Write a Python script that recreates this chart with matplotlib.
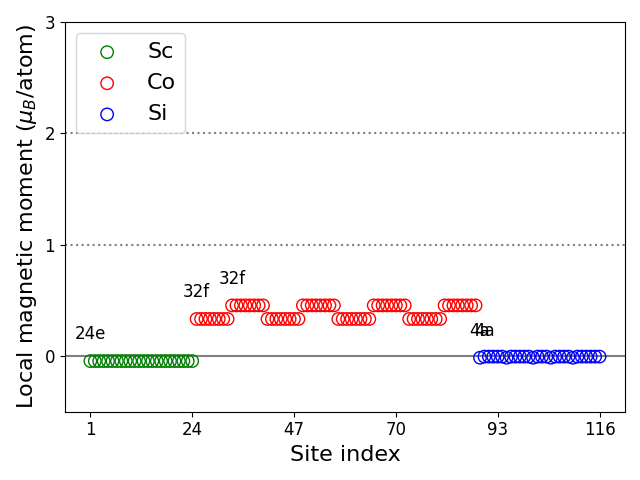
import numpy as np
import matplotlib
matplotlib.use("Agg")
import matplotlib.pyplot as plt

# Site indices and local moments (mu_B/atom)
sc_sites = np.arange(1, 25)
sc_moments = [-0.045] * 24

co_sites = np.arange(25, 89)
co_low = 0.333
co_high = 0.455
co_moments = ([co_low] * 8 + [co_high] * 8) * 4

si_sites = np.arange(89, 117)
si_moments = [-0.015, -0.005, -0.005, -0.005, -0.005, -0.005, -0.015, -0.005,
              -0.005, -0.005, -0.005, -0.005, -0.015, -0.005, -0.005, -0.005,
              -0.015, -0.005, -0.005, -0.005, -0.005, -0.015, -0.005, -0.005,
              -0.005, -0.005, -0.005, -0.005]

# Wyckoff labels: (site index, moment, label)
wyck_x = [1, 25, 33, 89, 90]
wyck_y = [-0.045, 0.333, 0.455, -0.015, -0.015]
wyck_lbl = ["24e", "32f", "32f", "4a", "4a"]

tick_pos = [1, 24, 47, 70, 93, 116]

fig, ax = plt.subplots(figsize=(6.4, 4.8), dpi=100)

ax.axhline(0, color='grey', lw=1.5, zorder=0)
ax.axhline(1, color='grey', ls=':', lw=1.5, zorder=0)
ax.axhline(2, color='grey', ls=':', lw=1.5, zorder=0)

ax.scatter(sc_sites, sc_moments, s=80, facecolors='none', edgecolors='green', label='Sc')
ax.scatter(co_sites, co_moments, s=80, facecolors='none', edgecolors='red', label='Co')
ax.scatter(si_sites, si_moments, s=80, facecolors='none', edgecolors='blue', label='Si')

for x, y, t in zip(wyck_x, wyck_y, wyck_lbl):
    ax.text(x, y + 0.195, t, ha='center', fontsize=12)

ax.set_ylim(-0.5, 3)
ax.set_yticks([0, 1, 2, 3])
ax.set_xticks(tick_pos)
ax.tick_params(labelsize=12)
ax.set_xlabel("Site index", fontsize=16)
ax.set_ylabel(r"Local magnetic moment ($\mu_B$/atom)", fontsize=16)
ax.legend(loc='upper left', fontsize=16)

plt.tight_layout()
plt.savefig("out.png")
